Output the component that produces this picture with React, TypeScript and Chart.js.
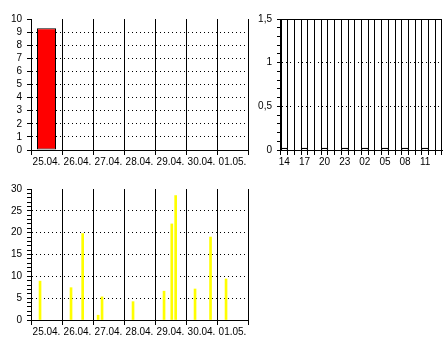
import React, { useEffect, useRef } from "react";
import { Chart, registerables } from "chart.js";

Chart.register(...registerables);

// Daily precipitation totals
const dayLabels = ["25.04.", "26.04.", "27.04.", "28.04.", "29.04.", "30.04.", "01.05."];
const dailyPrecip = [9.3, 0, 0, 0, 0, 0, 0];

// Last 24 hours, 3-hourly sums (one value every third hour)
const hourLabels = [
  "14", "15", "16", "17", "18", "19", "20", "21", "22", "23", "00", "01",
  "02", "03", "04", "05", "06", "07", "08", "09", "10", "11", "12", "13",
];
const threeHourPrecip = [0, 0, 0, 0, 0, 0, 0, 0];

// Weekly series: hour offset from 25.04. 00:00 and value
const eventHours = [7, 31, 40, 52, 55, 79, 103, 109, 112, 127, 139, 151];
const eventValues = [8.9, 7.4, 19.8, 1.1, 5.3, 4.2, 6.6, 22.0, 28.5, 7.1, 19.0, 9.4];

const FONT = { family: "'Liberation Sans', Arial, sans-serif", size: 10 };
const INK = "#000";

const near = (a: number, b: number) => Math.abs(a - b) < 1e-6;
const isMultiple = (v: number, m: number) => near(Math.round(v / m) * m, v);

function yAxis(max: number, step: number, labelEvery: number, fmt: (v: number) => string, topLine: boolean) {
  return {
    min: 0,
    max,
    ticks: {
      stepSize: step,
      autoSkip: false,
      color: INK,
      font: FONT,
      padding: 5,
      callback: (v: number) => (isMultiple(v, labelEvery) ? fmt(v) : ""),
    },
    grid: {
      lineWidth: 1,
      tickLength: 4,
      tickColor: INK,
      color: (ctx: any) => {
        const v = ctx.tick ? ctx.tick.value : undefined;
        if (v === undefined) return "transparent";
        if (topLine && near(v, max)) return INK;
        if (v > 0 && v < max - 1e-6 && isMultiple(v, labelEvery)) return INK;
        return "transparent";
      },
    },
    border: {
      display: true,
      color: INK,
      width: 1,
      dash: (ctx: any) => (ctx.tick && ctx.tick.value < max - 1e-6 ? [1, 3] : []),
    },
    afterFit: (s: any) => {
      s.width = 31;
    },
  };
}

function categoryX(labels: string[], every: number) {
  return {
    type: "category" as const,
    offset: true,
    grid: { offset: true, color: INK, tickColor: INK, tickLength: 5, lineWidth: 1 },
    border: { display: true, color: INK, width: 1 },
    ticks: {
      autoSkip: false,
      maxRotation: 0,
      padding: 1,
      color: INK,
      font: FONT,
      callback: (_v: any, i: number) => (i % every === 0 ? labels[i] : ""),
    },
    afterFit: (s: any) => {
      s.height = 20;
    },
  };
}

const baseOptions = (scales: any, rightPad: number) => ({
  responsive: false,
  animation: false as const,
  devicePixelRatio: 1,
  layout: { padding: { top: 19, right: rightPad, left: 0, bottom: 0 } },
  plugins: { legend: { display: false }, tooltip: { enabled: false } },
  scales,
});

function useChart(ref: React.RefObject<HTMLCanvasElement>, make: () => any) {
  useEffect(() => {
    if (!ref.current) return;
    const chart = new Chart(ref.current, make());
    return () => chart.destroy();
  }, []);
}

export default function App() {
  const dailyRef = useRef<HTMLCanvasElement>(null);
  const hourlyRef = useRef<HTMLCanvasElement>(null);
  const weeklyRef = useRef<HTMLCanvasElement>(null);

  useChart(dailyRef, () => ({
    type: "bar",
    data: {
      labels: dayLabels,
      datasets: [
        {
          data: dailyPrecip,
          backgroundColor: "#ff0000",
          borderColor: INK,
          borderWidth: 1,
          borderSkipped: false,
          barThickness: 19,
          inflateAmount: 0,
        },
      ],
    },
    options: baseOptions(
      {
        x: categoryX(dayLabels, 1),
        y: yAxis(10, 1, 1, (v) => String(v), false),
      },
      2
    ),
  }));

  useChart(hourlyRef, () => ({
    type: "bar",
    data: {
      labels: hourLabels,
      datasets: [
        {
          data: hourLabels.map((_, i) => (i % 3 === 0 ? threeHourPrecip[i / 3] : null)),
          backgroundColor: "transparent",
          borderColor: INK,
          borderWidth: 1,
          borderSkipped: "start",
          minBarLength: 2,
          barPercentage: 1,
          categoryPercentage: 1,
        },
      ],
    },
    options: baseOptions(
      {
        x: categoryX(hourLabels, 3),
        y: yAxis(1.5, 0.1, 0.5, (v) => String(Math.round(v * 10) / 10).replace(".", ","), true),
      },
      4
    ),
  }));

  useChart(weeklyRef, () => ({
    type: "bar",
    data: {
      datasets: [
        {
          data: eventHours.map((h, i) => ({ x: h, y: eventValues[i] })),
          backgroundColor: "#ffff00",
          borderWidth: 0,
          barThickness: 2,
        },
      ],
    },
    options: baseOptions(
      {
        x: {
          type: "linear",
          min: 0,
          max: 168,
          offset: false,
          grid: {
            offset: false,
            lineWidth: 1,
            tickLength: 5,
            color: (ctx: any) => (ctx.tick && ctx.tick.value % 24 === 0 ? INK : "transparent"),
            tickColor: (ctx: any) => (ctx.tick && ctx.tick.value % 24 === 0 ? INK : "transparent"),
          },
          border: { display: true, color: INK, width: 1 },
          ticks: {
            stepSize: 12,
            autoSkip: false,
            maxRotation: 0,
            padding: 1,
            color: INK,
            font: FONT,
            callback: (v: number) => (v % 24 === 12 ? dayLabels[(v - 12) / 24] : ""),
          },
          afterFit: (s: any) => {
            s.height = 20;
          },
        },
        y: yAxis(30, 1, 5, (v) => String(v), false),
      },
      2
    ),
  }));

  return (
    <div style={{ position: "fixed", left: 0, top: 0, width: 446, height: 340, background: "#fff" }}>
      <canvas ref={dailyRef} width={250} height={170} style={{ position: "absolute", left: 0, top: 0 }} />
      <canvas ref={hourlyRef} width={196} height={170} style={{ position: "absolute", left: 250, top: 0 }} />
      <canvas ref={weeklyRef} width={250} height={170} style={{ position: "absolute", left: 0, top: 170 }} />
    </div>
  );
}
